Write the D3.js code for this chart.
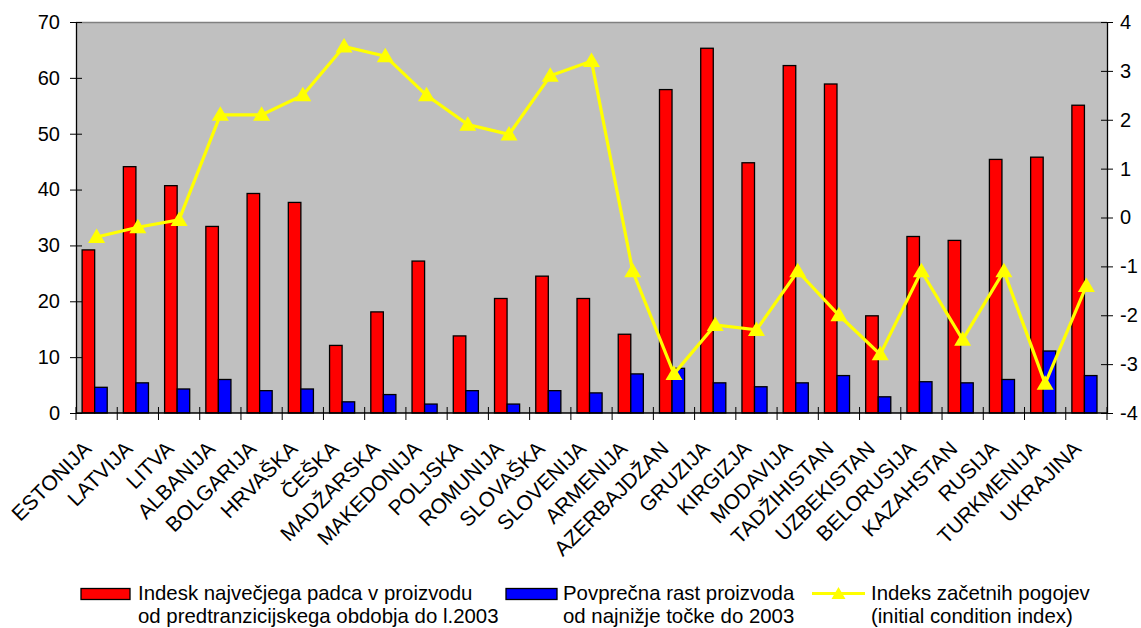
<!DOCTYPE html>
<html><head><meta charset="utf-8">
<script src="https://cdn.jsdelivr.net/npm/d3@7"></script>
<style>
html,body{margin:0;padding:0;background:#fff;}
svg{display:block;font-family:"Liberation Sans",Arial,sans-serif;}
</style></head>
<body><svg id="chart" width="1141" height="628"></svg>
<script>
const categories = ["ESTONIJA","LATVIJA","LITVA","ALBANIJA","BOLGARIJA","HRVAŠKA","ČEŠKA","MADŽARSKA","MAKEDONIJA","POLJSKA","ROMUNIJA","SLOVAŠKA","SLOVENIJA","ARMENIJA","AZERBAJDŽAN","GRUZIJA","KIRGIZJA","MODAVIJA","TADŽIHISTAN","UZBEKISTAN","BELORUSIJA","KAZAHSTAN","RUSIJA","TURKMENIJA","UKRAJINA"];
const maxDecline = [29.2,44.1,40.7,33.4,39.3,37.7,12.1,18.1,27.2,13.8,20.5,24.5,20.5,14.1,57.9,65.3,44.8,62.2,58.9,17.4,31.6,30.9,45.4,45.8,55.1];
const avgGrowth = [4.6,5.4,4.3,6.0,4.0,4.3,2.0,3.3,1.6,4.0,1.6,4.0,3.6,7.0,8.0,5.4,4.7,5.4,6.7,2.9,5.6,5.4,6.0,11.1,6.7];
const initialIndex = [-0.4,-0.2,-0.05,2.1,2.1,2.5,3.5,3.3,2.5,1.9,1.7,2.9,3.2,-1.1,-3.2,-2.2,-2.3,-1.1,-2.0,-2.8,-1.1,-2.5,-1.1,-3.4,-1.4];
const leftTicks = [0,10,20,30,40,50,60,70];
const rightTicks = [-4,-3,-2,-1,0,1,2,3,4];
const seriesNames = [
  ["Indesk največjega padca v proizvodu","od predtranzicijskega obdobja do l.2003"],
  ["Povprečna rast proizvoda","od najnižje točke do 2003"],
  ["Indeks začetnih pogojev","(initial condition index)"]
];

const svg = d3.select("#chart");
const L = 76, R = 1107, T = 22, B = 413;

const x = d3.scaleBand().domain(categories).range([L, R]).padding(0);
const yL = d3.scaleLinear().domain([0,70]).range([B, T]);
const yR = d3.scaleLinear().domain([-4,4]).range([B, T]);
const cw = x.bandwidth();
const sub = d3.scaleBand().domain(["red","blue"]).range([cw/2 - 14.5, cw/2 + 10.6]).padding(0);

// plot background
svg.append("rect").attr("x", L).attr("y", T).attr("width", R-L).attr("height", B-T).attr("fill", "#C0C0C0");
svg.append("line").attr("x1", L).attr("x2", R).attr("y1", T+0.5).attr("y2", T+0.5).attr("stroke", "#808080").attr("stroke-width", 1.5);

// bars
const g = svg.append("g");
categories.forEach((c, i) => {
  g.append("rect").attr("x", x(c) + sub("red")).attr("y", yL(maxDecline[i]))
    .attr("width", sub.bandwidth()).attr("height", B - yL(maxDecline[i]))
    .attr("fill", "#FF0000").attr("stroke", "#000").attr("stroke-width", 1.3);
  g.append("rect").attr("x", x(c) + sub("blue")).attr("y", yL(avgGrowth[i]))
    .attr("width", sub.bandwidth()).attr("height", B - yL(avgGrowth[i]))
    .attr("fill", "#0000FF").attr("stroke", "#000").attr("stroke-width", 1.3);
});

// axes
const fmt = d => String(d);
const axL = d3.axisLeft(yL).tickValues(leftTicks).tickFormat(fmt).tickSizeInner(6).tickSizeOuter(0).tickPadding(10);
const gl = svg.append("g").attr("transform", `translate(${L},0)`).call(axL);
gl.selectAll(".tick line").attr("x2", -6).attr("x1", 6).attr("stroke", "#000");
gl.select(".domain").attr("stroke", "#000").attr("stroke-width", 1.3);
gl.selectAll("text").attr("font-size", 20).attr("fill", "#000").attr("font-family", "Liberation Sans, Arial, sans-serif").attr("x", -16);

const axR = d3.axisRight(yR).tickValues(rightTicks).tickFormat(fmt).tickSizeInner(6).tickSizeOuter(0).tickPadding(10);
const gr = svg.append("g").attr("transform", `translate(${R},0)`).call(axR);
gr.selectAll(".tick line").attr("x1", -6).attr("x2", 6).attr("stroke", "#000");
gr.select(".domain").attr("stroke", "#000").attr("stroke-width", 1.3);
gr.selectAll("text").attr("font-size", 20).attr("fill", "#000").attr("font-family", "Liberation Sans, Arial, sans-serif").attr("x", 13);

// bottom axis
const gb = svg.append("g");
gb.append("line").attr("x1", L).attr("x2", R).attr("y1", B).attr("y2", B).attr("stroke", "#000").attr("stroke-width", 1.3);
const bounds = categories.map(c => x(c)).concat([R]);
gb.selectAll("line.tk").data(bounds).enter().append("line").attr("class","tk")
  .attr("x1", d => d).attr("x2", d => d).attr("y1", B - 6).attr("y2", B + 7).attr("stroke", "#000").attr("stroke-width", 1);
gb.selectAll("text").data(categories).enter().append("text")
  .attr("transform", c => `translate(${x(c) + cw/2 - 4},450) rotate(-45)`)
  .attr("text-anchor", "end").attr("font-size", 21).attr("fill", "#000")
  .text(c => c);

// line series
const line = d3.line().x((d, i) => x(categories[i]) + cw/2).y(d => yR(d));
svg.append("path").datum(initialIndex).attr("d", line).attr("fill", "none")
  .attr("stroke", "#FFFF00").attr("stroke-width", 3.2).attr("stroke-linejoin", "miter");
const tri = "M0,-8.5L8.5,6L-8.5,6Z";
svg.selectAll("path.mk").data(initialIndex).enter().append("path").attr("class","mk")
  .attr("d", tri).attr("fill", "#FFFF00")
  .attr("transform", (d, i) => `translate(${x(categories[i]) + cw/2},${yR(d)})`);

// legend
const lg = svg.append("g").attr("font-size", 20.4).attr("fill", "#000");
const legendX = [81, 506, 812];
const textX = [138, 563, 871];
lg.append("rect").attr("x", legendX[0]).attr("y", 588.5).attr("width", 49).attr("height", 11).attr("fill", "#FF0000").attr("stroke", "#000").attr("stroke-width", 1.3);
lg.append("rect").attr("x", legendX[1]).attr("y", 588.5).attr("width", 51).attr("height", 11).attr("fill", "#0000FF").attr("stroke", "#000").attr("stroke-width", 1.3);
lg.append("line").attr("x1", legendX[2]).attr("x2", 865).attr("y1", 593.5).attr("y2", 593.5).attr("stroke", "#FFFF00").attr("stroke-width", 3.2);
lg.append("path").attr("d", "M0,-7L7,5L-7,5Z").attr("fill", "#FFFF00").attr("transform", "translate(838.5,594)");
seriesNames.forEach((lines, k) => {
  lines.forEach((t, j) => {
    lg.append("text").attr("x", textX[k]).attr("y", 600 + j*23).text(t);
  });
});
</script></body></html>
